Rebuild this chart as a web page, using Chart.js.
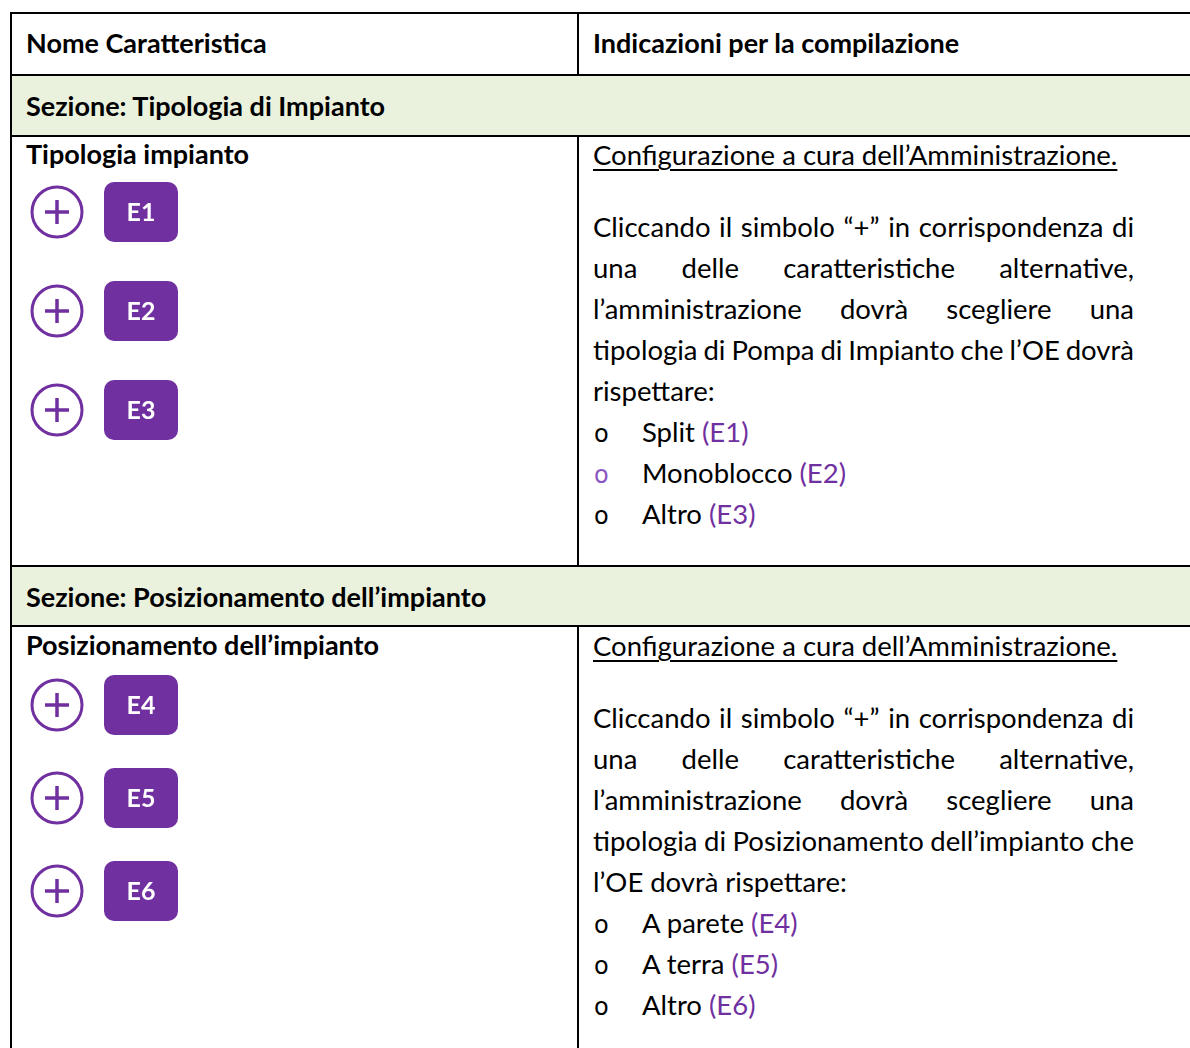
<!DOCTYPE html>
<html>
  <head>
    <meta charset="utf-8">
    <script src="https://cdn.jsdelivr.net/npm/chart.js"></script>
    <style>
      body { margin: 0; width: 1190px; height: 1048px; overflow: hidden; background: #fff;
             font-family: Lato, "Noto Sans", sans-serif; font-size: 27.5px; color: #000; }
      .abs { position: absolute; }
      .linea { position: absolute; background: #000; }
      .banda { position: absolute; background: #EAF1DD; }
      .testo { position: absolute; line-height: 41px; white-space: nowrap; }
      .b { font-weight: bold; font-size: 27px; }
      .sott { text-decoration: underline; text-decoration-thickness: 1.5px; text-underline-offset: 4px; }
      .riga { position: absolute; width: 541px; height: 41px; line-height: 41px; display: flex; justify-content: space-between; white-space: nowrap; }
      .pallino span { font-family: "DejaVu Sans", sans-serif; font-size: 24px; }
      .viola { color: #7030A0; }
    </style>
  </head>
  <body>
    <div id="pagina"></div>
    <canvas id="iconeTipologia" class="abs" width="220" height="300" style="left:0px; top:150px;"></canvas>
    <canvas id="iconePosizionamento" class="abs" width="220" height="300" style="left:0px; top:640px;"></canvas>

    <script>
      // dati della tabella
      const intestazioni = ["Nome Caratteristica", "Indicazioni per la compilazione"];
      const sezioni = ["Sezione: Tipologia di Impianto", "Sezione: Posizionamento dell’impianto"];
      const caratteristiche = ["Tipologia impianto", "Posizionamento dell’impianto"];
      const configurazione = "Configurazione a cura dell’Amministrazione.";

      const righeTipologia = [
        "Cliccando il simbolo “+” in corrispondenza di",
        "una delle caratteristiche alternative,",
        "l’amministrazione dovrà scegliere una",
        "tipologia di Pompa di Impianto che l’OE dovrà",
        "rispettare:"
      ];
      const righePosizionamento = [
        "Cliccando il simbolo “+” in corrispondenza di",
        "una delle caratteristiche alternative,",
        "l’amministrazione dovrà scegliere una",
        "tipologia di Posizionamento dell’impianto che",
        "l’OE dovrà rispettare:"
      ];

      const codiciTipologia = ["E1", "E2", "E3"];
      const vociTipologia = ["Split", "Monoblocco", "Altro"];
      const codiciPosizionamento = ["E4", "E5", "E6"];
      const vociPosizionamento = ["A parete", "A terra", "Altro"];

      const viola = "#7030A0";
      const pagina = document.getElementById("pagina");

      function box(cls, left, top, width, height, html) {
        const d = document.createElement("div");
        d.className = cls;
        d.style.left = left + "px";
        d.style.top = top + "px";
        if (width != null) d.style.width = width + "px";
        if (height != null) d.style.height = height + "px";
        if (html != null) d.innerHTML = html;
        pagina.appendChild(d);
        return d;
      }

      // griglia e bande verdi
      box("banda", 12, 76, 1178, 59);
      box("banda", 12, 567, 1178, 58);
      box("linea", 10, 12, 1180, 2);
      box("linea", 10, 12, 2, 1036);
      [74, 135, 565, 625].forEach(y => box("linea", 10, y, 1180, 2));
      box("linea", 577, 14, 2, 60);
      box("linea", 577, 137, 2, 428);
      box("linea", 577, 627, 2, 421);

      // intestazione
      box("testo b", 26, 22, null, null, intestazioni[0]);
      box("testo b", 593, 22, null, null, intestazioni[1]);

      function sezione(i, dy, righe, voci, codici) {
        box("testo b", 26, 85 + dy, null, null, sezioni[i]);
        box("testo b", 26, 133 + dy, null, null, caratteristiche[i]);
        box("testo sott", 593, 134 + dy, null, null, configurazione);

        // righe giustificate
        righe.forEach((r, k) => {
          const d = box("riga", 593, 206 + dy + k * 41);
          if (k === righe.length - 1) d.style.justifyContent = "flex-start";
          r.split(" ").forEach((w, j) => {
            const s = document.createElement("span");
            s.textContent = w;
            if (k === righe.length - 1 && j > 0) s.style.marginLeft = "0.25em";
            d.appendChild(s);
          });
        });

        // elenco puntato
        voci.forEach((v, k) => {
          const top = 411 + dy + k * 41;
          const p = box("testo pallino", 594, top, null, null, "<span>o</span>");
          if (i === 0 && k === 1) p.style.color = "#8a56c2";
          box("testo", 642, top, null, null, v + ' <span class="viola">(' + codici[k] + ')</span>');
        });
      }

      sezione(0, 0, righeTipologia, vociTipologia, codiciTipologia);
      sezione(1, 491, righePosizionamento, vociPosizionamento, codiciPosizionamento);

      // etichette viola dentro i quadrati arrotondati
      const badgePlugin = {
        id: "badge",
        afterDatasetsDraw(chart) {
          const ctx = chart.ctx;
          const meta = chart.getDatasetMeta(2);
          const labels = chart.options.scales.y.labels;
          meta.data.forEach((pt, i) => {
            ctx.save();
            ctx.fillStyle = viola;
            ctx.beginPath();
            ctx.roundRect(pt.x - 37, pt.y - 30, 74, 60, 10);
            ctx.fill();
            ctx.fillStyle = "#fff";
            ctx.font = "bold 25px Lato";
            ctx.textAlign = "center";
            ctx.textBaseline = "middle";
            ctx.fillText(labels[i], pt.x, pt.y + 1);
            ctx.restore();
          });
        }
      };

      function icone(id, codici, padTop, padBottom) {
        const ctx = document.getElementById(id).getContext("2d");
        return new Chart(ctx, {
          type: "scatter",
          data: {
            datasets: [
              {
                label: "cerchio",
                data: codici.map(c => ({ x: "più", y: c })),
                pointStyle: "circle",
                pointRadius: 25,
                borderWidth: 3,
                borderColor: viola,
                backgroundColor: "rgba(0,0,0,0)",
                clip: false
              },
              {
                label: "croce",
                data: codici.map(c => ({ x: "più", y: c })),
                pointStyle: "cross",
                pointRadius: 12,
                borderWidth: 3.5,
                borderColor: viola,
                clip: false
              },
              {
                label: "codice",
                data: codici.map(c => ({ x: "codice", y: c })),
                pointRadius: 0,
                clip: false
              }
            ]
          },
          options: {
            responsive: false,
            animation: false,
            events: [],
            layout: { padding: { left: 57, right: 79, top: padTop, bottom: padBottom } },
            plugins: { legend: { display: false }, tooltip: { enabled: false } },
            scales: {
              x: { type: "category", labels: ["più", "codice"], offset: false, display: false },
              y: { type: "category", labels: codici, offset: false, display: false }
            }
          },
          plugins: [badgePlugin]
        });
      }

      icone("iconeTipologia", codiciTipologia, 62, 40);
      icone("iconePosizionamento", codiciPosizionamento, 65, 49);
    </script>
  </body>
</html>
